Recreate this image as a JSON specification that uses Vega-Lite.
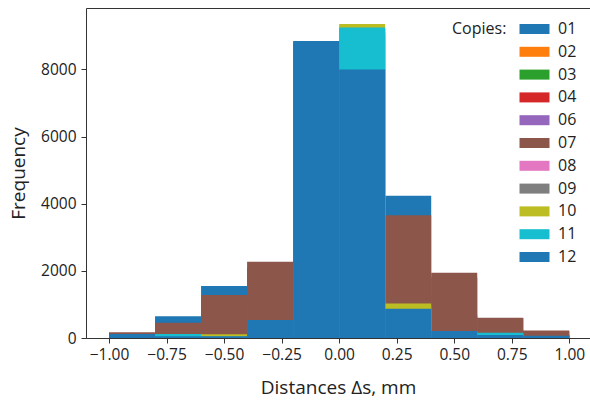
{
  "$schema": "https://vega.github.io/schema/vega-lite/v6.json",
  "width": 504,
  "height": 330,
  "autosize": {"type": "none"},
  "padding": {"left": 86, "top": 8, "right": 0, "bottom": 63},
  "config": {
    "font": "Open Sans",
    "view": {"stroke": "#333", "strokeWidth": 1},
    "axis": {"domain": false, "grid": false, "tickColor": "#333", "tickSize": 5, "labelColor": "#222", "titleColor": "#222", "labelFontSize": 15.5, "titleFontSize": 19, "titleFontWeight": "normal", "labelFont": "Open Sans", "titleFont": "Open Sans"}
  },
  "data": {"values": [
    {"copy": "01", "bin_start": -1.0, "bin_end": -0.8, "frequency": 150},
    {"copy": "01", "bin_start": -0.8, "bin_end": -0.6, "frequency": 650},
    {"copy": "01", "bin_start": -0.6, "bin_end": -0.4, "frequency": 1550},
    {"copy": "01", "bin_start": -0.4, "bin_end": -0.2, "frequency": 2100},
    {"copy": "01", "bin_start": -0.2, "bin_end": 0.0, "frequency": 8700},
    {"copy": "01", "bin_start": 0.0, "bin_end": 0.2, "frequency": 9200},
    {"copy": "01", "bin_start": 0.2, "bin_end": 0.4, "frequency": 4240},
    {"copy": "01", "bin_start": 0.4, "bin_end": 0.6, "frequency": 1800},
    {"copy": "01", "bin_start": 0.6, "bin_end": 0.8, "frequency": 580},
    {"copy": "01", "bin_start": 0.8, "bin_end": 1.0, "frequency": 200},
    {"copy": "02", "bin_start": -1.0, "bin_end": -0.8, "frequency": 60},
    {"copy": "02", "bin_start": -0.8, "bin_end": -0.6, "frequency": 200},
    {"copy": "02", "bin_start": -0.6, "bin_end": -0.4, "frequency": 500},
    {"copy": "02", "bin_start": -0.4, "bin_end": -0.2, "frequency": 900},
    {"copy": "02", "bin_start": -0.2, "bin_end": 0.0, "frequency": 3500},
    {"copy": "02", "bin_start": 0.0, "bin_end": 0.2, "frequency": 4000},
    {"copy": "02", "bin_start": 0.2, "bin_end": 0.4, "frequency": 1500},
    {"copy": "02", "bin_start": 0.4, "bin_end": 0.6, "frequency": 700},
    {"copy": "02", "bin_start": 0.6, "bin_end": 0.8, "frequency": 250},
    {"copy": "02", "bin_start": 0.8, "bin_end": 1.0, "frequency": 90},
    {"copy": "03", "bin_start": -1.0, "bin_end": -0.8, "frequency": 50},
    {"copy": "03", "bin_start": -0.8, "bin_end": -0.6, "frequency": 180},
    {"copy": "03", "bin_start": -0.6, "bin_end": -0.4, "frequency": 450},
    {"copy": "03", "bin_start": -0.4, "bin_end": -0.2, "frequency": 850},
    {"copy": "03", "bin_start": -0.2, "bin_end": 0.0, "frequency": 3400},
    {"copy": "03", "bin_start": 0.0, "bin_end": 0.2, "frequency": 3900},
    {"copy": "03", "bin_start": 0.2, "bin_end": 0.4, "frequency": 1400},
    {"copy": "03", "bin_start": 0.4, "bin_end": 0.6, "frequency": 650},
    {"copy": "03", "bin_start": 0.6, "bin_end": 0.8, "frequency": 230},
    {"copy": "03", "bin_start": 0.8, "bin_end": 1.0, "frequency": 80},
    {"copy": "04", "bin_start": -1.0, "bin_end": -0.8, "frequency": 40},
    {"copy": "04", "bin_start": -0.8, "bin_end": -0.6, "frequency": 150},
    {"copy": "04", "bin_start": -0.6, "bin_end": -0.4, "frequency": 400},
    {"copy": "04", "bin_start": -0.4, "bin_end": -0.2, "frequency": 800},
    {"copy": "04", "bin_start": -0.2, "bin_end": 0.0, "frequency": 3300},
    {"copy": "04", "bin_start": 0.0, "bin_end": 0.2, "frequency": 3800},
    {"copy": "04", "bin_start": 0.2, "bin_end": 0.4, "frequency": 1300},
    {"copy": "04", "bin_start": 0.4, "bin_end": 0.6, "frequency": 600},
    {"copy": "04", "bin_start": 0.6, "bin_end": 0.8, "frequency": 200},
    {"copy": "04", "bin_start": 0.8, "bin_end": 1.0, "frequency": 70},
    {"copy": "06", "bin_start": -1.0, "bin_end": -0.8, "frequency": 50},
    {"copy": "06", "bin_start": -0.8, "bin_end": -0.6, "frequency": 170},
    {"copy": "06", "bin_start": -0.6, "bin_end": -0.4, "frequency": 420},
    {"copy": "06", "bin_start": -0.4, "bin_end": -0.2, "frequency": 820},
    {"copy": "06", "bin_start": -0.2, "bin_end": 0.0, "frequency": 3350},
    {"copy": "06", "bin_start": 0.0, "bin_end": 0.2, "frequency": 3850},
    {"copy": "06", "bin_start": 0.2, "bin_end": 0.4, "frequency": 1350},
    {"copy": "06", "bin_start": 0.4, "bin_end": 0.6, "frequency": 620},
    {"copy": "06", "bin_start": 0.6, "bin_end": 0.8, "frequency": 220},
    {"copy": "06", "bin_start": 0.8, "bin_end": 1.0, "frequency": 80},
    {"copy": "07", "bin_start": -1.0, "bin_end": -0.8, "frequency": 170},
    {"copy": "07", "bin_start": -0.8, "bin_end": -0.6, "frequency": 455},
    {"copy": "07", "bin_start": -0.6, "bin_end": -0.4, "frequency": 1280},
    {"copy": "07", "bin_start": -0.4, "bin_end": -0.2, "frequency": 2270},
    {"copy": "07", "bin_start": -0.2, "bin_end": 0.0, "frequency": 2600},
    {"copy": "07", "bin_start": 0.0, "bin_end": 0.2, "frequency": 2700},
    {"copy": "07", "bin_start": 0.2, "bin_end": 0.4, "frequency": 3660},
    {"copy": "07", "bin_start": 0.4, "bin_end": 0.6, "frequency": 1940},
    {"copy": "07", "bin_start": 0.6, "bin_end": 0.8, "frequency": 605},
    {"copy": "07", "bin_start": 0.8, "bin_end": 1.0, "frequency": 220},
    {"copy": "08", "bin_start": -1.0, "bin_end": -0.8, "frequency": 50},
    {"copy": "08", "bin_start": -0.8, "bin_end": -0.6, "frequency": 80},
    {"copy": "08", "bin_start": -0.6, "bin_end": -0.4, "frequency": 90},
    {"copy": "08", "bin_start": -0.4, "bin_end": -0.2, "frequency": 450},
    {"copy": "08", "bin_start": -0.2, "bin_end": 0.0, "frequency": 8600},
    {"copy": "08", "bin_start": 0.0, "bin_end": 0.2, "frequency": 9000},
    {"copy": "08", "bin_start": 0.2, "bin_end": 0.4, "frequency": 950},
    {"copy": "08", "bin_start": 0.4, "bin_end": 0.6, "frequency": 180},
    {"copy": "08", "bin_start": 0.6, "bin_end": 0.8, "frequency": 100},
    {"copy": "08", "bin_start": 0.8, "bin_end": 1.0, "frequency": 40},
    {"copy": "09", "bin_start": -1.0, "bin_end": -0.8, "frequency": 40},
    {"copy": "09", "bin_start": -0.8, "bin_end": -0.6, "frequency": 70},
    {"copy": "09", "bin_start": -0.6, "bin_end": -0.4, "frequency": 80},
    {"copy": "09", "bin_start": -0.4, "bin_end": -0.2, "frequency": 420},
    {"copy": "09", "bin_start": -0.2, "bin_end": 0.0, "frequency": 8500},
    {"copy": "09", "bin_start": 0.0, "bin_end": 0.2, "frequency": 9100},
    {"copy": "09", "bin_start": 0.2, "bin_end": 0.4, "frequency": 900},
    {"copy": "09", "bin_start": 0.4, "bin_end": 0.6, "frequency": 170},
    {"copy": "09", "bin_start": 0.6, "bin_end": 0.8, "frequency": 90},
    {"copy": "09", "bin_start": 0.8, "bin_end": 1.0, "frequency": 40},
    {"copy": "10", "bin_start": -1.0, "bin_end": -0.8, "frequency": 60},
    {"copy": "10", "bin_start": -0.8, "bin_end": -0.6, "frequency": 90},
    {"copy": "10", "bin_start": -0.6, "bin_end": -0.4, "frequency": 110},
    {"copy": "10", "bin_start": -0.4, "bin_end": -0.2, "frequency": 500},
    {"copy": "10", "bin_start": -0.2, "bin_end": 0.0, "frequency": 8800},
    {"copy": "10", "bin_start": 0.0, "bin_end": 0.2, "frequency": 9350},
    {"copy": "10", "bin_start": 0.2, "bin_end": 0.4, "frequency": 1030},
    {"copy": "10", "bin_start": 0.4, "bin_end": 0.6, "frequency": 190},
    {"copy": "10", "bin_start": 0.6, "bin_end": 0.8, "frequency": 120},
    {"copy": "10", "bin_start": 0.8, "bin_end": 1.0, "frequency": 50},
    {"copy": "11", "bin_start": -1.0, "bin_end": -0.8, "frequency": 70},
    {"copy": "11", "bin_start": -0.8, "bin_end": -0.6, "frequency": 120},
    {"copy": "11", "bin_start": -0.6, "bin_end": -0.4, "frequency": 40},
    {"copy": "11", "bin_start": -0.4, "bin_end": -0.2, "frequency": 480},
    {"copy": "11", "bin_start": -0.2, "bin_end": 0.0, "frequency": 8750},
    {"copy": "11", "bin_start": 0.0, "bin_end": 0.2, "frequency": 9250},
    {"copy": "11", "bin_start": 0.2, "bin_end": 0.4, "frequency": 800},
    {"copy": "11", "bin_start": 0.4, "bin_end": 0.6, "frequency": 200},
    {"copy": "11", "bin_start": 0.6, "bin_end": 0.8, "frequency": 160},
    {"copy": "11", "bin_start": 0.8, "bin_end": 1.0, "frequency": 60},
    {"copy": "12", "bin_start": -1.0, "bin_end": -0.8, "frequency": 120},
    {"copy": "12", "bin_start": -0.8, "bin_end": -0.6, "frequency": 50},
    {"copy": "12", "bin_start": -0.6, "bin_end": -0.4, "frequency": 50},
    {"copy": "12", "bin_start": -0.4, "bin_end": -0.2, "frequency": 535},
    {"copy": "12", "bin_start": -0.2, "bin_end": 0.0, "frequency": 8850},
    {"copy": "12", "bin_start": 0.0, "bin_end": 0.2, "frequency": 8000},
    {"copy": "12", "bin_start": 0.2, "bin_end": 0.4, "frequency": 870},
    {"copy": "12", "bin_start": 0.4, "bin_end": 0.6, "frequency": 210},
    {"copy": "12", "bin_start": 0.6, "bin_end": 0.8, "frequency": 90},
    {"copy": "12", "bin_start": 0.8, "bin_end": 1.0, "frequency": 70}
  ]},
  "mark": {"type": "bar", "strokeWidth": 0, "opacity": 1},
  "encoding": {
    "x": {
      "field": "bin_start", "type": "quantitative",
      "scale": {"domain": [-1.1, 1.09], "nice": false, "zero": false},
      "axis": {"values": [-1, -0.75, -0.5, -0.25, 0, 0.25, 0.5, 0.75, 1], "format": ".2f", "title": "Distances Δs, mm", "labelPadding": 4, "titlePadding": 16}
    },
    "x2": {"field": "bin_end"},
    "y": {
      "field": "frequency", "type": "quantitative",
      "scale": {"domain": [0, 9830], "nice": false},
      "axis": {"values": [0, 2000, 4000, 6000, 8000], "format": "d", "title": "Frequency", "labelPadding": 5, "titlePadding": 12}
    },
    "y2": {"datum": 0},
    "color": {
      "field": "copy", "type": "nominal",
      "scale": {
        "domain": ["01", "02", "03", "04", "06", "07", "08", "09", "10", "11", "12"],
        "range": ["#1f77b4", "#ff7f0e", "#2ca02c", "#d62728", "#9467bd", "#8c564b", "#e377c2", "#7f7f7f", "#bcbd22", "#17becf", "#1f77b4"]
      },
      "legend": {
        "title": "Copies:",
        "orient": "top-right",
        "offset": 7,
        "titleOrient": "left",
        "titleAnchor": "start",
        "titleBaseline": "top",
        "titleFontSize": 16,
        "titleFontWeight": "normal",
        "titleColor": "#222",
        "titlePadding": 12,
        "titleLimit": 200,
        "labelFontSize": 16,
        "labelColor": "#222",
        "labelOffset": 23,
        "symbolType": "M-1,-0.667H3V0.667H-1Z",
        "symbolSize": 225,
        "symbolStrokeWidth": 0,
        "symbolOpacity": 1,
        "rowPadding": 6.8,
        "padding": 6,
        "fillColor": "white"
      }
    },
    "order": {"field": "copy"}
  }
}
